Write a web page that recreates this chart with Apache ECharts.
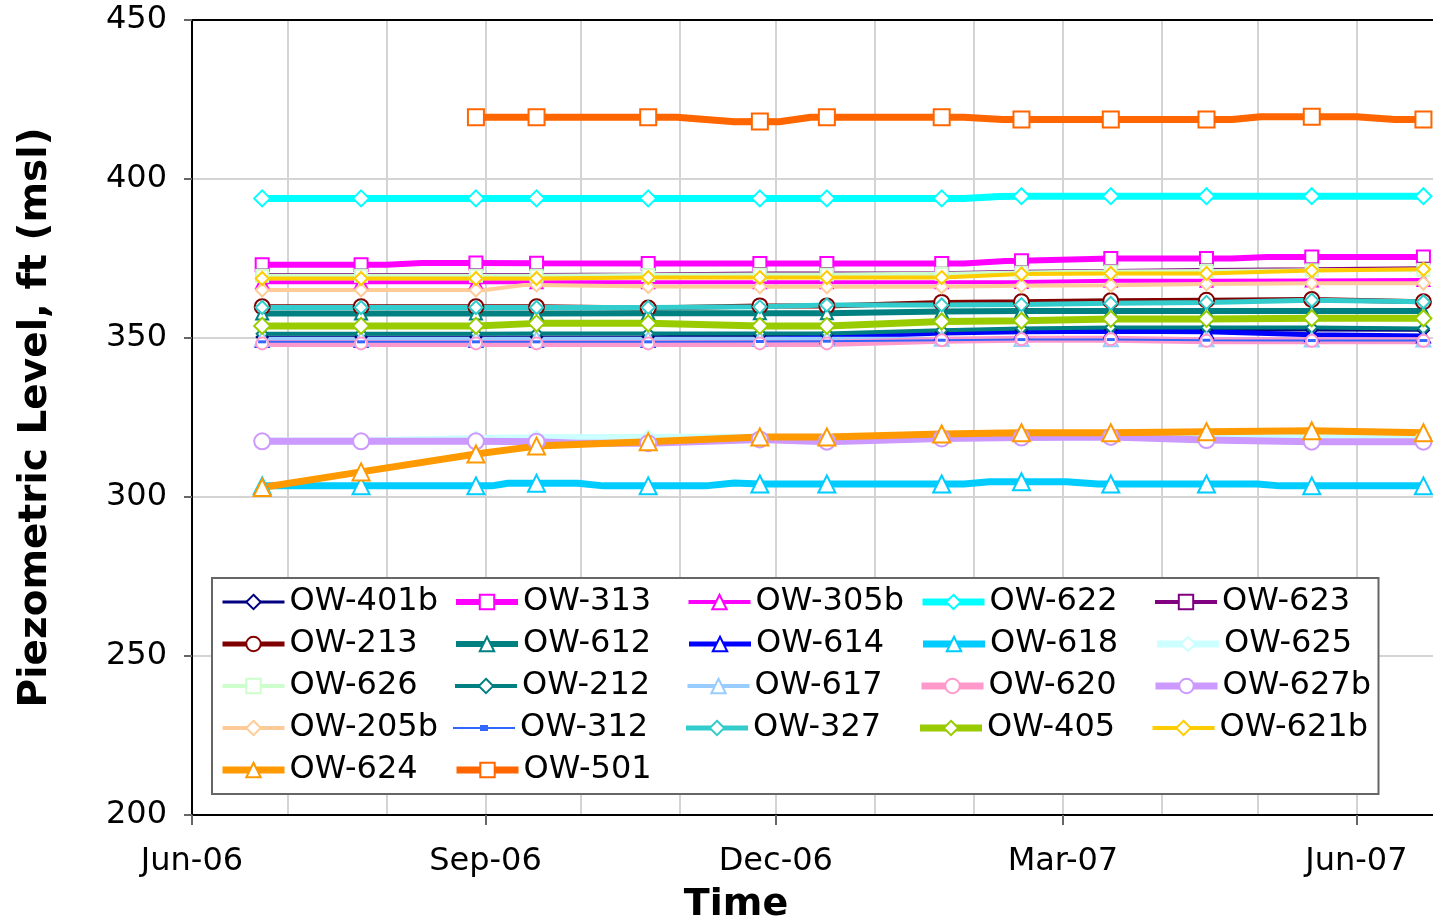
<!DOCTYPE html>
<html><head><meta charset="utf-8">
<script src="https://cdn.jsdelivr.net/npm/echarts@6/dist/echarts.min.js"></script>
<style>html,body{margin:0;padding:0;background:#fff}#c{width:1433px;height:924px}</style>
</head><body><div id="c"></div><script>
// ---- data ----
const markerDates = ['2006-06-23','2006-07-24','2006-08-29','2006-09-17','2006-10-22','2006-11-26','2006-12-17','2007-01-22','2007-02-16','2007-03-16','2007-04-15','2007-05-18','2007-06-22'];
const quarterTickDates = ['2006-06-01','2006-09-01','2006-12-01','2007-03-01','2007-06-01'];
const monthGridDates = ['2006-06-01','2006-07-01','2006-08-01','2006-09-01','2006-10-01','2006-11-01','2006-12-01','2007-01-01','2007-02-01','2007-03-01','2007-04-01','2007-05-01','2007-06-01'];
const xRange = ['2006-06-01','2007-06-25'];
const yTicks = [200, 250, 300, 350, 400, 450];

const ow401b = [350.3,350.3,350.3,350.3,350.4,350.8,351.0,352.0,352.5,352.5,352.5,352.5,352.4];
const ow313  = [373.0,373.0,373.6,373.5,373.4,373.4,373.4,373.4,374.3,375.0,375.0,375.5,375.5];
const ow305b = [367.5,367.5,367.5,367.5,367.5,367.5,367.5,367.5,367.6,368.0,368.0,368.1,368.2];
const ow622  = [393.9,393.9,393.9,393.9,393.9,393.9,393.9,393.9,394.6,394.6,394.6,394.6,394.6];
const ow623  = [369.8,369.8,369.8,369.8,370.0,370.3,370.3,370.4,370.8,371.1,371.4,371.6,371.9];
const ow213  = [359.8,359.8,359.8,359.8,359.4,360.1,360.1,361.2,361.4,361.7,361.9,362.1,361.4];
const ow612  = [357.7,357.7,357.7,357.7,357.8,357.8,357.8,358.3,358.5,358.5,358.5,358.5,358.5];
const ow614  = [349.3,349.3,349.3,349.3,349.3,349.5,350.2,351.6,352.0,352.1,352.0,351.0,350.6];
const ow618  = [303.5,303.5,303.5,304.3,303.5,304.1,304.1,304.1,304.8,304.1,304.1,303.5,303.5];
const ow625  = [317.6,317.6,318.4,318.6,318.8,318.8,318.8,318.8,318.8,319.0,319.2,319.2,319.2];
const ow626  = [369.6,369.6,369.6,369.6,369.8,370.0,370.0,370.2,370.6,370.9,371.1,371.3,371.5];
const ow212  = [351.3,351.3,351.3,351.4,351.4,351.4,351.4,352.4,353.0,353.3,353.3,353.3,353.0];
const ow617  = [349.8,349.8,349.8,349.8,349.8,349.8,349.8,349.8,349.7,349.6,349.6,349.5,349.5];
const ow620  = [348.3,348.3,348.3,348.3,348.3,348.3,348.3,349.3,349.6,349.6,349.1,349.1,349.1];
const ow627b = [317.5,317.5,317.5,317.4,316.9,318.1,317.4,318.4,318.7,318.9,317.9,317.4,317.4];
const ow205b = [365.1,365.1,365.1,366.7,366.2,366.1,366.1,366.1,366.4,366.6,367.0,367.2,367.2];
const ow312  = [348.8,348.8,348.8,348.8,348.8,348.9,349.0,349.3,349.5,349.5,349.3,349.2,349.2];
const ow327  = [359.6,359.6,359.6,359.6,359.6,359.8,360.4,360.4,360.5,360.9,361.2,361.9,361.4];
const ow405  = [353.8,353.8,353.8,354.6,354.6,353.8,353.8,355.2,355.4,356.0,356.0,356.2,356.2];
const ow621b = [368.7,368.7,368.7,368.7,369.0,369.0,369.0,369.0,370.1,370.3,370.3,371.2,371.6];
const ow624  = [303.0,307.9,313.5,316.0,317.4,318.9,318.9,319.8,320.2,320.2,320.5,320.8,320.2];
const ow501  = [null,null,419.4,419.4,419.4,418.1,419.4,419.4,418.7,418.7,418.7,419.6,418.7];

// intermediate readings drawn without markers: [date, value]
const ow501Extra = [['2006-10-31',419.4],['2006-11-18',418.0],['2006-12-02',418.0],['2006-12-12',419.4],['2007-01-29',419.4],['2007-02-10',418.7],['2007-04-23',418.7],['2007-05-02',419.6],['2007-06-01',419.6],['2007-06-13',418.7]];
const ow313Extra = [['2006-08-01',373.0],['2006-08-12',373.6],['2007-01-29',373.4],['2007-02-11',374.2],['2007-04-23',375.0],['2007-05-04',375.5]];
const ow622Extra = [['2007-01-29',393.9],['2007-02-09',394.5]];
const ow618Extra = [['2006-09-03',303.5],['2006-09-08',304.3],['2006-09-30',304.3],['2006-10-08',303.5],['2006-11-09',303.5],['2006-11-18',304.4],['2007-01-29',304.1],['2007-02-06',304.8],['2007-03-02',304.8],['2007-03-12',304.1],['2007-05-01',304.1],['2007-05-08',303.5]];
const ow205bExtra = [['2006-09-01',365.1],['2006-09-13',366.7]];
const ow627bExtra = [['2006-09-30',316.9]];

// ---- styles ----
const FONT = 'DejaVu Sans';
const defs = [
  {name:'OW-401b', v:ow401b, x:[], color:'#000080', sym:'emptyDiamond', size:11, w:3},
  {name:'OW-313',  v:ow313,  x:ow313Extra, color:'#FF00FF', sym:'emptyRect', size:13, w:6},
  {name:'OW-305b', v:ow305b, x:[], color:'#FF00FF', sym:'emptyTriangle', size:12, w:4},
  {name:'OW-622',  v:ow622,  x:ow622Extra, color:'#00FFFF', sym:'emptyDiamond', size:16, w:7},
  {name:'OW-623',  v:ow623,  x:[], color:'#800080', sym:'emptyRect', size:11, w:4},
  {name:'OW-213',  v:ow213,  x:[], color:'#800000', sym:'emptyCircle', size:15, w:5},
  {name:'OW-612',  v:ow612,  x:[], color:'#008080', sym:'emptyTriangle', size:12, w:6},
  {name:'OW-614',  v:ow614,  x:[], color:'#0000FF', sym:'emptyTriangle', size:13, w:5},
  {name:'OW-618',  v:ow618,  x:ow618Extra, color:'#00CCFF', sym:'emptyTriangle', size:17, w:7},
  {name:'OW-625',  v:ow625,  x:[], color:'#CCFFFF', sym:'emptyDiamond', size:14, w:7},
  {name:'OW-626',  v:ow626,  x:[], color:'#CCFFCC', sym:'emptyRect', size:12, w:4},
  {name:'OW-212',  v:ow212,  x:[], color:'#008080', sym:'emptyDiamond', size:11, w:4},
  {name:'OW-617',  v:ow617,  x:[], color:'#99CCFF', sym:'emptyTriangle', size:14, w:4},
  {name:'OW-620',  v:ow620,  x:[], color:'#FF99CC', sym:'emptyCircle', size:12, w:7},
  {name:'OW-627b', v:ow627b, x:ow627bExtra, color:'#CC99FF', sym:'emptyCircle', size:16, w:7},
  {name:'OW-205b', v:ow205b, x:ow205bExtra, color:'#FFCC99', sym:'emptyDiamond', size:13, w:4},
  {name:'OW-312',  v:ow312,  x:[], color:'#3366FF', sym:'rect', size:[8,3], w:2,
     icon:'path://M0 3H62V5H0Z M27 1H35V7H27Z'},
  {name:'OW-327',  v:ow327,  x:[], color:'#33CCCC', sym:'emptyDiamond', size:13, w:5},
  {name:'OW-405',  v:ow405,  x:[], color:'#99CC00', sym:'emptyDiamond', size:16, w:7},
  {name:'OW-621b', v:ow621b, x:[], color:'#FFCC00', sym:'emptyDiamond', size:13, w:4},
  {name:'OW-624',  v:ow624,  x:[], color:'#FF9900', sym:'emptyTriangle', size:17, w:7},
  {name:'OW-501',  v:ow501,  x:ow501Extra, color:'#FF6600', sym:'emptyRect', size:16, w:7}
];

// dates -> day number since 2006-06-01, so a plain value axis can be used
const ORIGIN = Date.UTC(2006,5,1);
function toDay(s){const p=s.split('-');return Math.round((Date.UTC(+p[0],+p[1]-1,+p[2])-ORIGIN)/86400000);}
const MON = ['Jan','Feb','Mar','Apr','May','Jun','Jul','Aug','Sep','Oct','Nov','Dec'];
function dayLabel(v){const d=new Date(ORIGIN+Math.round(v)*86400000);return MON[d.getUTCMonth()]+'-'+String(d.getUTCFullYear()).slice(2);}

const series = defs.map(d => {
  const pts = markerDates.map((dt,i) => d.v[i]==null ? null : {value:[toDay(dt), d.v[i]]}).filter(Boolean)
    .concat(d.x.map(e => ({value:[toDay(e[0]), e[1]], symbol:'none'})))
    .sort((a,b) => a.value[0]-b.value[0]);
  return {
    type:'line', name:d.name, data:pts, xAxisIndex:0,
    symbol:d.sym, symbolSize:d.size, showAllSymbol:true,
    lineStyle:{color:d.color, width:d.w},
    itemStyle:{color:d.color, borderWidth:2},
    emphasis:{disabled:true}
  };
});
const legendData = defs.map(d => d.icon ? {name:d.name, icon:d.icon} : {name:d.name});

const xMin = toDay(xRange[0]), xMax = toDay(xRange[1]);
const quarterTicks = quarterTickDates.map(toDay);
const monthTicks = monthGridDates.map(toDay);
const chart = echarts.init(document.getElementById('c'));
chart.setOption({
  animation:false,
  backgroundColor:'#fff',
  grid:{left:192, top:20, right:0, bottom:109},
  xAxis:[
    {type:'value', min:xMin, max:xMax, position:'bottom',
     axisLine:{lineStyle:{color:'#000', width:2}},
     axisTick:{show:true, length:10, customValues:quarterTicks, lineStyle:{color:'#666', width:2}},
     axisLabel:{customValues:quarterTicks, fontSize:32, fontFamily:FONT, color:'#000', margin:31, formatter:dayLabel},
     splitLine:{show:false}},
    {type:'value', min:xMin, max:xMax, position:'top',
     axisLine:{show:true, lineStyle:{color:'#000', width:2}}, axisLabel:{show:false, customValues:monthTicks},
     axisTick:{show:false, customValues:monthTicks},
     splitLine:{show:true, lineStyle:{color:'#d4d4d4', width:2}}}
  ],
  yAxis:{type:'value', min:yTicks[0], max:yTicks[yTicks.length-1], interval:50,
    axisLine:{show:true, lineStyle:{color:'#000', width:2}},
    axisTick:{show:true, length:8, lineStyle:{color:'#666', width:2}},
    axisLabel:{fontSize:32, fontFamily:FONT, color:'#000', margin:25},
    splitLine:{show:true, lineStyle:{color:'#d4d4d4', width:2}},
    name:'Piezometric Level, ft (msl)', nameLocation:'middle', nameGap:137,
    nameTextStyle:{fontSize:39, fontWeight:'bold', fontFamily:FONT, color:'#000'}},
  legend:{data:legendData, left:212, top:578, width:1250, orient:'horizontal', selectedMode:false,
    padding:[8,1,8,7], itemWidth:62, itemHeight:18, itemGap:10, symbolKeepAspect:true,
    lineStyle:{width:'inherit'},
    backgroundColor:'#fff', borderColor:'#666', borderWidth:2,
    textStyle:{fontSize:32, fontFamily:FONT, color:'#000', width:153.5, lineHeight:32}},
  graphic:[{type:'text', x:736, y:905,
    style:{text:'Time', font:'bold 38px "DejaVu Sans"', fill:'#000', textAlign:'center', textVerticalAlign:'middle'}}],
  series:series
});
</script></body></html>
